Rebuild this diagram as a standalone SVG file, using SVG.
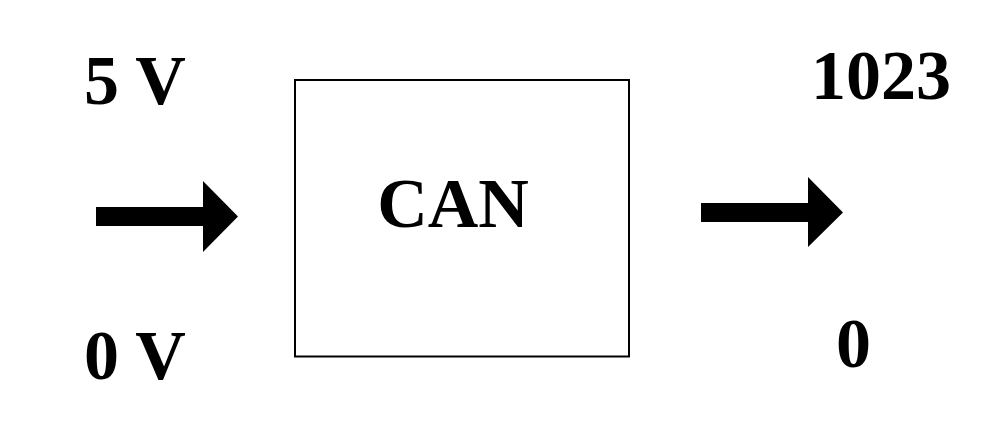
<svg xmlns="http://www.w3.org/2000/svg" width="999" height="429" viewBox="0 0 999 429">
<style>
.t{font-family:"Liberation Serif","Times New Roman",serif;font-weight:bold;font-size:70px;fill:#000}
.arr{fill:#000}
</style>
<rect width="999" height="429" fill="#fff"/>
<g id="labels">
<text class="t" x="84" y="104">5 V</text>
<text class="t" x="84" y="379">0 V</text>
<text class="t" x="811" y="99">1023</text>
<text class="t" x="836" y="367">0</text>
</g>
<g id="can">
<rect x="295" y="80" width="334" height="276.5" fill="#fff" stroke="#000" stroke-width="2"/>
<text class="t" x="453" y="227" text-anchor="middle">CAN</text>
</g>
<g id="connectors">
<polygon class="arr" points="96,207 203,207 203,181 238,216.5 203,252 203,226 96,226"/>
<polygon class="arr" points="701,203 808,203 808,177 843,212.5 808,247 808,222 701,222"/>
</g>
</svg>
